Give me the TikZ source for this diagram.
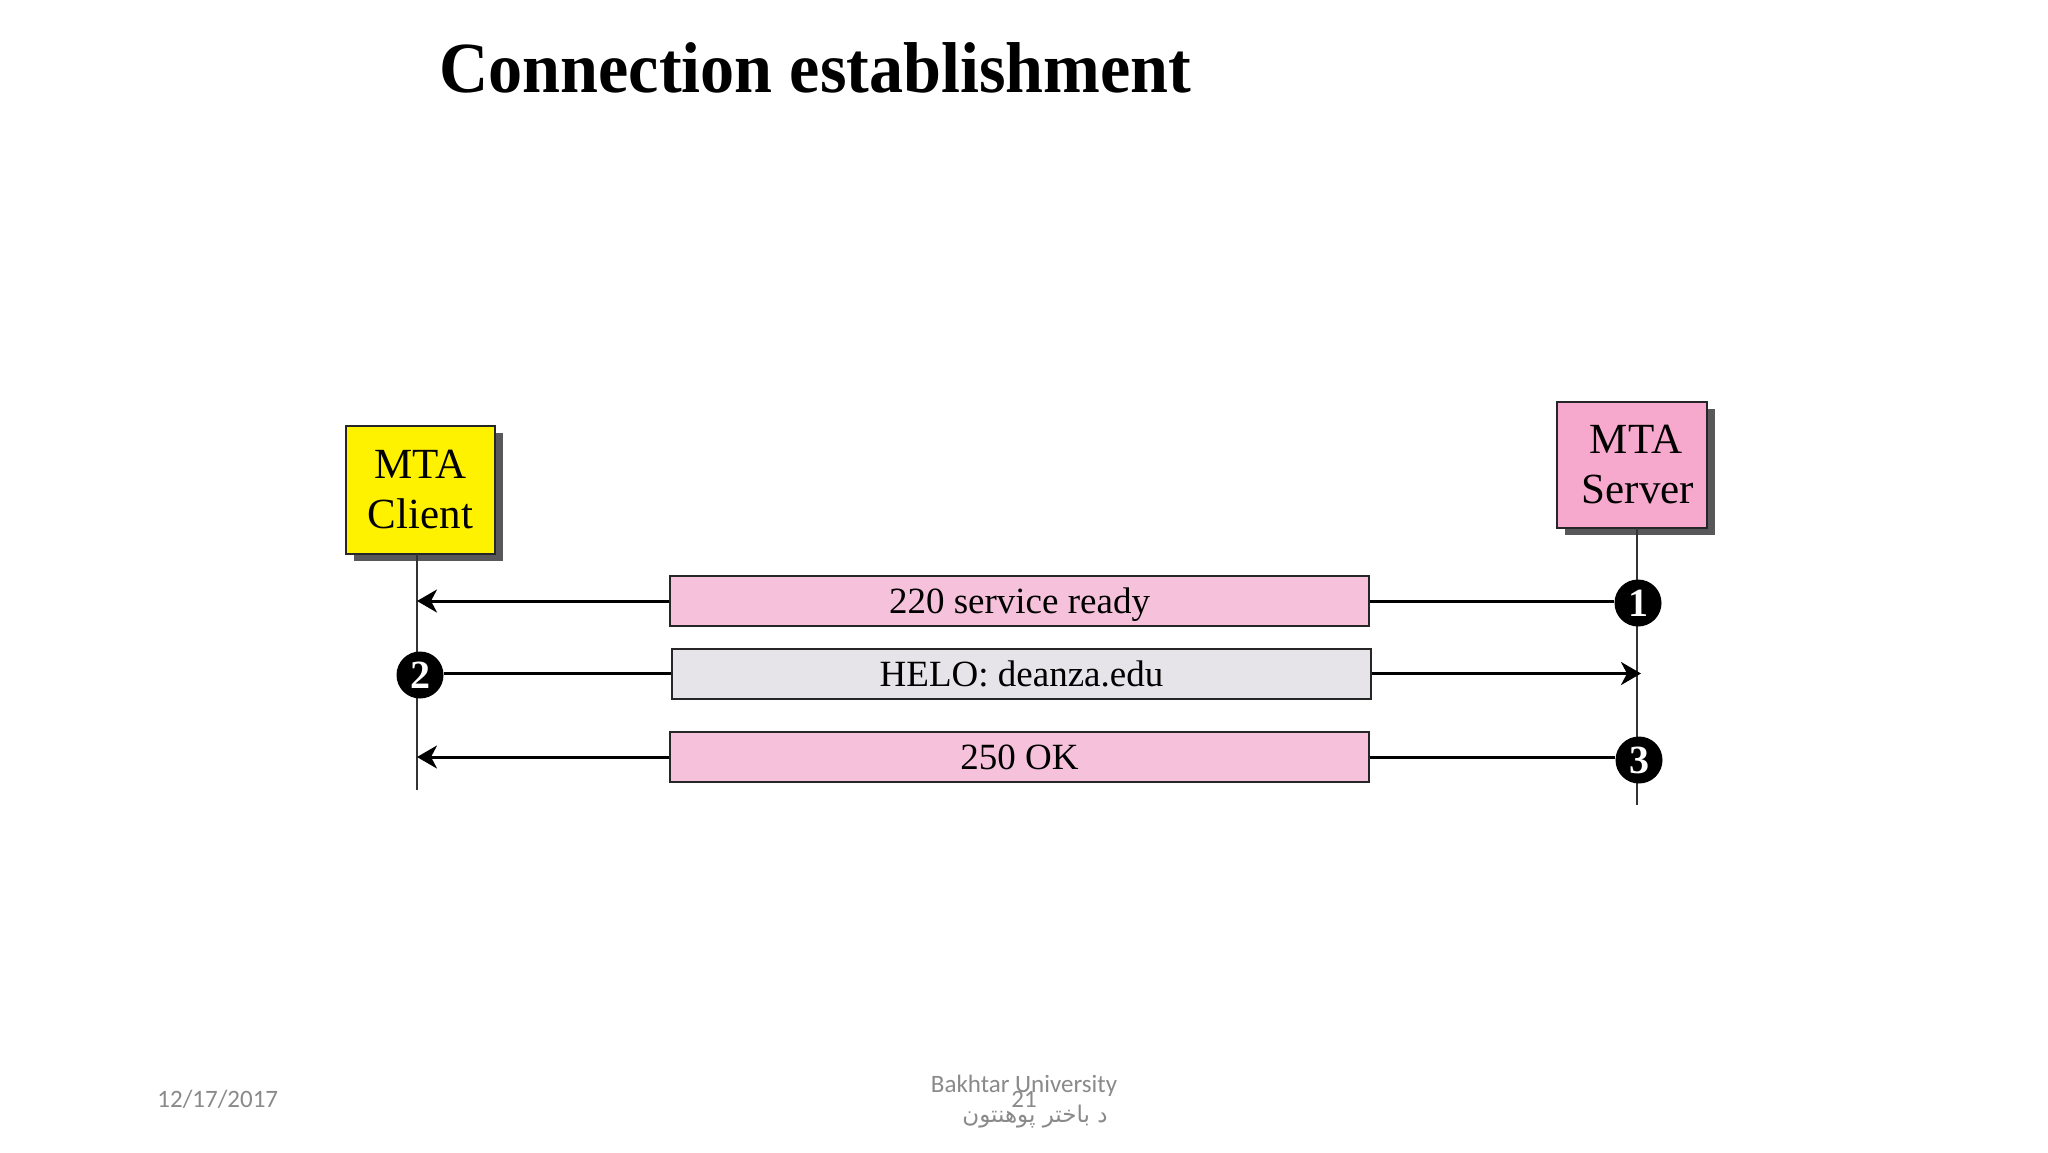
\documentclass[tikz,border=0pt]{standalone}
\usepackage{fontspec}
\setmainfont{Liberation Serif}
\newfontfamily\footfont{Carlito}
\newfontfamily\arabicfont[Script=Arabic]{DejaVu Sans}
\TeXXeTstate=1
\usetikzlibrary{arrows.meta,shadows}
\definecolor{mtayellow}{HTML}{FFF200}
\definecolor{mtapink}{HTML}{F7A9CD}
\definecolor{msgpink}{HTML}{F6C1DB}
\definecolor{msggrey}{HTML}{E6E4E8}
\definecolor{footgrey}{HTML}{8A8A8A}
\definecolor{lifegrey}{HTML}{333333}
\definecolor{shadowgrey}{HTML}{58585A}
\begin{document}
\begin{tikzpicture}[x=0.5pt,y=-0.5pt,
 agent/.style={draw=black!85,line width=1.2pt, inner sep=0pt, align=center,
   font=\fontsize{21.5}{25}\selectfont,
   general shadow={fill=shadowgrey, shadow xshift=4pt, shadow yshift=-3.5pt}},
 msg/.style={draw=black!85, line width=1pt, minimum width=349.5pt, minimum height=25pt,
   inner sep=0pt, text depth=0pt, font=\fontsize{18.5}{20}\selectfont},
 num/.style={circle, fill=black, text=white, minimum size=23.5pt, inner sep=0pt,
   font=\fontsize{20}{20}\selectfont\bfseries},
 arr/.style={line width=1.5pt, -{Stealth[length=10pt,width=11.5pt,inset=3pt]}},
 link/.style={line width=1.5pt},
 life/.style={draw=lifegrey, line width=1.2pt},
 foot/.style={text=footgrey, inner sep=0pt, font=\footfont\fontsize{12.5}{13}\selectfont}]
\fill[white] (0,0) rectangle (2048,1152);
\useasboundingbox (0,0) rectangle (2048,1152);

% title
\node[anchor=base west, inner sep=0pt] (title) at (439,92)
  {\resizebox{376pt}{\height}{\fontsize{36}{40}\selectfont\bfseries Connection establishment}};

% agents
\node[agent, fill=mtayellow, minimum width=74.5pt, minimum height=64pt] (client) at (420.5,490) {MTA\\Client};
\node[agent, fill=mtapink, minimum width=75pt, minimum height=63pt] (server) at (1632,465) {\hspace*{4pt}MTA\\\hspace*{6pt}Server};

% lifelines
\coordinate (clTop) at (417,554);
\coordinate (clBot) at (417,790);
\coordinate (svTop) at (1637,528);
\coordinate (svBot) at (1637,805);
\draw[life] (clTop) -- (clBot);
\draw[life] (svTop) -- (svBot);

% numbered circles
\node[num] (c1) at (1638,603) {1};
\node[num] (c2) at (420,675) {2};
\node[num] (c3) at (1639,760) {3};

% message boxes
\node[msg, fill=msgpink] (b1) at (1019.5,601) {220 service ready};
\node[msg, fill=msggrey] (b2) at (1021.5,673.5) {HELO: deanza.edu};
\node[msg, fill=msgpink] (b3) at (1019.5,757) {250 OK};

% connectors
\draw[link] (b1.east) -- (b1.east -| c1.west);
\draw[arr] (b1.west) -- (b1.west -| clTop);
\draw[link] (b2.west) -- (b2.west -| c2.east);
\draw[arr] (b2.east) -- ([xshift=2pt]b2.east -| svTop);
\draw[link] (b3.east) -- (b3.east -| c3.west);
\draw[arr] (b3.west) -- (b3.west -| clTop);

% footer
\node[foot, anchor=base west] (date) at (157,1107) {12/17/2017};
\node[foot, anchor=base] (uni) at (1024,1092) {Bakhtar University};
\node[foot, anchor=base] (page) at (1024,1107) {21};
\node[foot, anchor=base, font=\arabicfont\fontsize{11.5}{12}\selectfont] (uniar) at (1035,1122) {\beginR د باختر پوهنتون\endR};
\end{tikzpicture}
\end{document}
